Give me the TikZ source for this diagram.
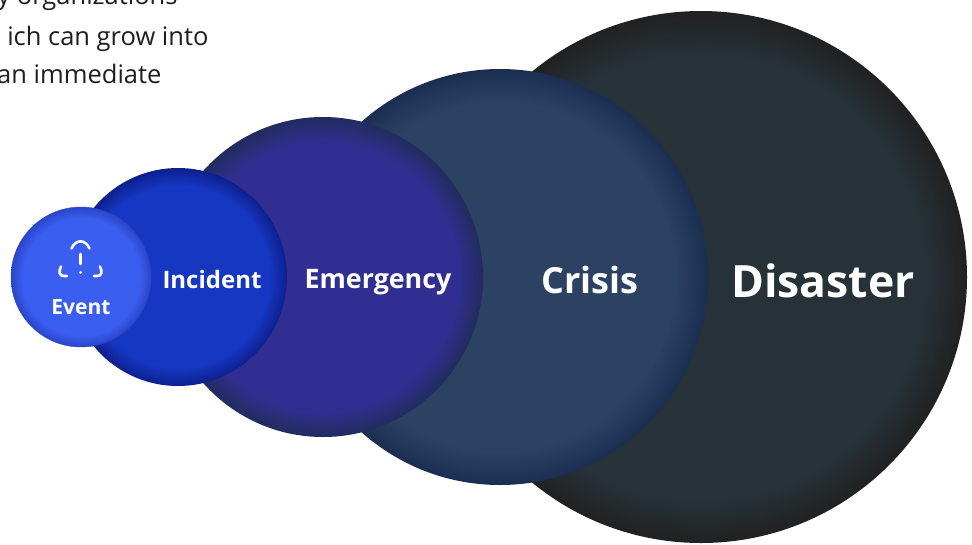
\documentclass[tikz,border=0pt]{standalone}
\usepackage{fontspec}
\setmainfont{Open Sans}
\definecolor{eventblue}{HTML}{3A5EEF}
\definecolor{eventrim}{HTML}{2B45C8}
\definecolor{incidentblue}{HTML}{1537C2}
\definecolor{incidentrim}{HTML}{0E1F8E}
\definecolor{emergencyblue}{HTML}{302F91}
\definecolor{emergencyrim}{HTML}{222C5E}
\definecolor{crisisblue}{HTML}{2C4262}
\definecolor{crisisrim}{HTML}{1B2E52}
\definecolor{disastergrey}{HTML}{263238}
\definecolor{disasterrim}{HTML}{212121}
\definecolor{bodytext}{HTML}{1E1E1E}
\newcommand{\rimshading}[3]{\pgfdeclareradialshading{#1}{\pgfpoint{0bp}{0bp}}{color(0bp)=(#2); color(21bp)=(#2); color(25bp)=(#3); color(50bp)=(#3)}}
\rimshading{eventshade}{eventblue}{eventrim}
\rimshading{incidentshade}{incidentblue}{incidentrim}
\rimshading{emergencyshade}{emergencyblue}{emergencyrim}
\rimshading{crisisshade}{crisisblue}{crisisrim}
\rimshading{disastershade}{disastergrey}{disasterrim}
\begin{document}
\begin{tikzpicture}[x=1pt,y=-1pt]

        \clip (0,0) rectangle (972,544);
        \fill[white] (0,0) rectangle (972,544);

        \begin{scope}[every node/.style={anchor=base east,text=bodytext,font=\fontsize{25.5}{30}\selectfont}]
          \node (line1) at (181,4)  {y organizations};
          \node (line2) at (212,45) {ich can grow into};
          \node (line3) at (165,83) {an immediate};
        \end{scope}

        \begin{scope}[every node/.style={circle,inner sep=0pt,draw=none}]
          \node[minimum size=532pt,shading=disastershade]  (disaster)  at (701,277) {};
          \node[minimum size=416pt,shading=crisisshade]    (crisis)    at (500,277) {};
          \node[minimum size=320pt,shading=emergencyshade] (emergency) at (323,277) {};
          \node[minimum size=218pt,shading=incidentshade]  (incident)  at (178,277) {};
          \node[minimum size=140pt,shading=eventshade,draw=eventrim,line width=0.4pt] (event) at (81,277) {};
        \end{scope}

        \begin{scope}[every node/.style={anchor=base,text=white,inner sep=0pt}]
          \node[font=\fontsize{44.5}{50}\selectfont\bfseries] (disasterlbl)  at (823,297) {Disaster};
          \node[font=\fontsize{36}{40}\selectfont\bfseries]   (crisislbl)    at (590,293) {Crisis};
          \node[font=\fontsize{26.8}{30}\selectfont\bfseries] (emergencylbl) at (378,288) {Emergency};
          \node[font=\fontsize{24}{28}\selectfont\bfseries]   (incidentlbl)  at (212,288) {Incident};
          \node[font=\fontsize{21}{24}\selectfont\bfseries]   (eventlbl)     at (81,314)  {Event};
        \end{scope}

        \begin{scope}[white,line width=2.6pt,line cap=round]
          \draw (71.5,248.5) .. controls (75.5,239) and (85.5,239) .. (89.5,248.5);
          \draw (80.5,254) -- (80.5,264);
          \fill (80.5,272.5) circle (1.7pt);
          \draw (61,266.5) .. controls (58.5,271.5) and (59,276) .. (64,276) -- (67,276);
          \draw (100,266.5) .. controls (102.5,271.5) and (102,276) .. (97,276) -- (94,276);
        \end{scope}

      \end{tikzpicture}
\end{document}
